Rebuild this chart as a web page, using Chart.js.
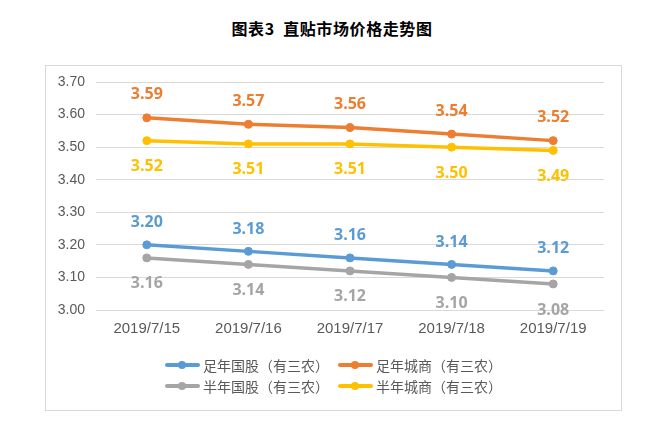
<!DOCTYPE html>
<html>
<head>
<meta charset="utf-8">
<script src="https://cdn.jsdelivr.net/npm/chart.js@4/dist/chart.umd.min.js"></script>
<style>
  html, body { margin: 0; padding: 0; background: #fff; }
  #wrap { position: relative; width: 664px; height: 426px; overflow: hidden; }
  #title { position: absolute; left: 0; top: 16px; width: 664px; text-align: center;
           font: bold 16px "Noto Sans CJK SC", sans-serif; color: #000; letter-spacing: 0.6px; }
  #box { position: absolute; left: 45px; top: 65px; width: 575px; height: 344px; border: 1px solid #d9d9d9; }
  canvas { position: absolute; left: 0; top: 0; }
  #legend { position: absolute; left: 165px; top: 355px; font: 14px "Noto Sans CJK SC", sans-serif; color: #595959; }
  .item { position: absolute; white-space: nowrap; height: 20px; line-height: 20px; }
  .sw { position: absolute; left: 0; top: 8px; width: 35px; height: 4px; border-radius: 2px; }
  .dot { position: absolute; left: 13px; top: 6px; width: 8px; height: 8px; border-radius: 4px; }
  .txt { position: absolute; left: 38px; top: 0; }
</style>
</head>
<body>
<div id="wrap">
  <div id="title">图表3&nbsp;&nbsp;直贴市场价格走势图</div>
  <div id="box"></div>
  <canvas id="c" width="664" height="426"></canvas>
  <div id="legend"></div>
</div>
<script>
const categories = ["2019/7/15", "2019/7/16", "2019/7/17", "2019/7/18", "2019/7/19"];
const seriesNames = ["足年国股（有三农）", "足年城商（有三农）", "半年国股（有三农）", "半年城商（有三农）"];
const fullYearStateBank = [3.20, 3.18, 3.16, 3.14, 3.12];
const fullYearCityBank = [3.59, 3.57, 3.56, 3.54, 3.52];
const halfYearStateBank = [3.16, 3.14, 3.12, 3.10, 3.08];
const halfYearCityBank = [3.52, 3.51, 3.51, 3.50, 3.49];
const yTicks = [3.00, 3.10, 3.20, 3.30, 3.40, 3.50, 3.60, 3.70];

const colors = ["#5B9BD5", "#ED7D31", "#A5A5A5", "#FFC000"];
const seriesData = [fullYearStateBank, fullYearCityBank, halfYearStateBank, halfYearCityBank];
const labelOffsets = [-22, -23, 26, 26];

const datasets = seriesData.map((d, i) => ({
  label: seriesNames[i],
  data: d,
  borderColor: colors[i],
  backgroundColor: colors[i],
  pointBackgroundColor: colors[i],
  pointBorderColor: colors[i],
  borderWidth: 3.5,
  pointRadius: 4,
  pointBorderWidth: 1,
  pointHoverRadius: 4,
  tension: 0,
  labelOffset: labelOffsets[i]
}));
const ordered = [datasets[2], datasets[3], datasets[0], datasets[1]];

const valueLabels = {
  id: 'valueLabels',
  afterDatasetsDraw(chart) {
    const ctx = chart.ctx;
    ctx.save();
    ctx.font = 'bold 16px "Open Sans", sans-serif';
    ctx.textAlign = 'center';
    ctx.textBaseline = 'middle';
    chart.data.datasets.forEach((ds, di) => {
      const meta = chart.getDatasetMeta(di);
      ctx.fillStyle = ds.borderColor;
      meta.data.forEach((pt, j) => {
        ctx.fillText(ds.data[j].toFixed(2), pt.x, pt.y + ds.labelOffset);
      });
    });
    ctx.restore();
  }
};

new Chart(document.getElementById('c'), {
  type: 'line',
  data: { labels: categories, datasets: ordered },
  options: {
    responsive: false,
    animation: false,
    events: [],
    layout: { padding: { left: 0, right: 60, top: 82, bottom: 0 } },
    plugins: { legend: { display: false }, tooltip: { enabled: false } },
    scales: {
      x: {
        offset: true,
        grid: { display: false, drawTicks: false, offset: true },
        border: { display: false },
        ticks: { color: '#595959', font: { family: '"Liberation Sans", sans-serif', size: 15 }, padding: 10, maxRotation: 0 },
        afterFit(s) { s.height = 116; }
      },
      y: {
        min: yTicks[0], max: yTicks[yTicks.length - 1],
        afterBuildTicks(s) { s.ticks = yTicks.map(v => ({ value: v })); },
        grid: { color: '#d9d9d9', lineWidth: 1, drawTicks: false },
        border: { display: false },
        ticks: { color: '#595959', font: { family: '"Liberation Sans", sans-serif', size: 14 }, padding: 11,
                 callback: v => Number(v).toFixed(2) },
        afterFit(s) { s.width = 96; }
      }
    }
  },
  plugins: [valueLabels]
});

const legendOrder = [0, 1, 2, 3];
const leg = document.getElementById('legend');
legendOrder.forEach((i, k) => {
  const col = k % 2, row = Math.floor(k / 2);
  const it = document.createElement('div');
  it.className = 'item';
  it.style.left = (col * 173) + 'px';
  it.style.top = (row * 21) + 'px';
  it.innerHTML = '<div class="sw" style="background:' + colors[i] + '"></div>' +
                 '<div class="dot" style="background:' + colors[i] + '"></div>' +
                 '<div class="txt">' + seriesNames[i] + '</div>';
  leg.appendChild(it);
});
</script>
</body>
</html>
